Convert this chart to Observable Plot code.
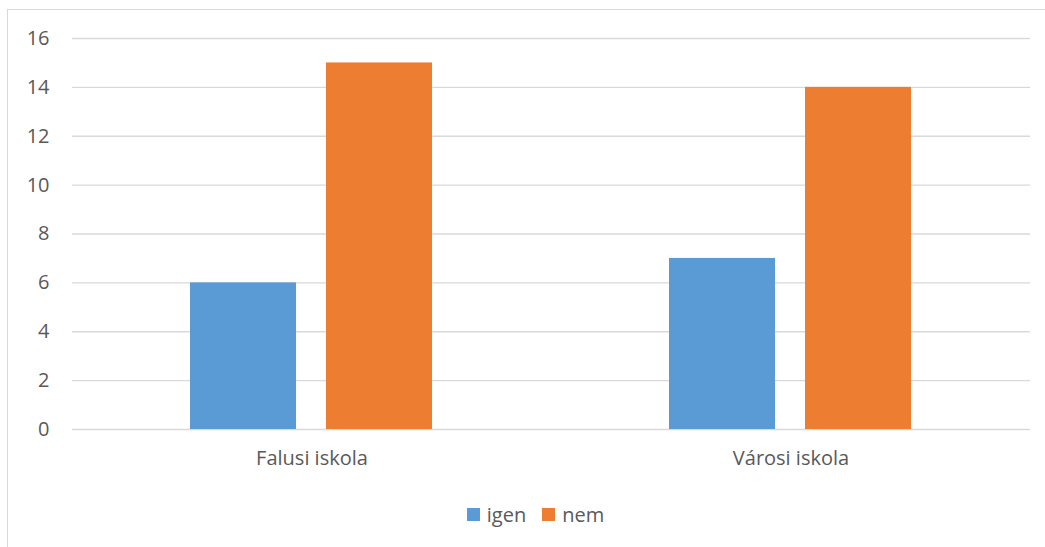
<!DOCTYPE html>
<html><head><meta charset="utf-8">
<script src="https://cdn.jsdelivr.net/npm/d3@7"></script>
<script src="https://cdn.jsdelivr.net/npm/@observablehq/plot@0.6"></script>
<style>
body{margin:0;background:#fff;font-family:"Open Sans",sans-serif;}
#wrap{position:relative;width:1045px;height:547px;}
#frame{position:absolute;left:7px;top:9px;width:1045px;height:560px;border:1px solid #d9d9d9;box-sizing:border-box;}
#chart{position:absolute;left:0;top:0;}
#legend{position:absolute;top:500px;left:0;width:1045px;height:28px;display:flex;justify-content:center;align-items:center;font-size:20px;color:#595959;padding-left:26px;box-sizing:border-box;}
.li{display:inline-flex;align-items:center;margin:0 8px;}
.sw{width:13px;height:13px;display:inline-block;margin-right:7px;}
</style></head>
<body><div id="wrap"><div id="frame"></div><div id="chart"></div>
<div id="legend"></div></div>
<script>
const categories = ["Falusi iskola", "Városi iskola"];
const series = ["igen", "nem"];
const igen = [6, 7];
const nem = [15, 14];
const colors = ["#5B9BD5", "#ED7D31"];
const yTicks = [0, 2, 4, 6, 8, 10, 12, 14, 16];

const data = [];
categories.forEach((c, i) => {
  data.push({cat: c, s: "igen", v: igen[i]});
  data.push({cat: c, s: "nem", v: nem[i]});
});

const chart = Plot.plot({
  width: 1045, height: 547,
  marginLeft: 71, marginRight: 15, marginTop: 38, marginBottom: 118,
  style: {fontFamily: "'Open Sans', sans-serif", fontSize: "20px", color: "#595959", background: "transparent"},
  fx: {domain: categories, padding: 0, label: null},
  x: {domain: series, paddingInner: 0.219, paddingOuter: 0.865, axis: null},
  y: {domain: [0, 16], axis: null},
  color: {domain: series, range: colors},
  marks: [
    Plot.ruleY(yTicks, {stroke: "#d9d9d9", strokeWidth: 1.3}),
    Plot.barY(data, {fx: "cat", x: "s", y: "v", fill: "s"}),
    Plot.axisY({ticks: yTicks, tickSize: 0, tickPadding: 23, tickFormat: d => d, fontSize: 20, fill: "#595959", label: null}),
    Plot.axisFx({anchor: "bottom", tickSize: 0, tickPadding: 21, fontSize: 20, fill: "#595959", label: null})
  ]
});
document.getElementById("chart").appendChild(chart);

const lg = document.getElementById("legend");
series.forEach((s, i) => {
  const el = document.createElement("span");
  el.className = "li";
  el.innerHTML = `<span class="sw" style="background:${colors[i]}"></span>${s}`;
  lg.appendChild(el);
});
</script></body></html>
